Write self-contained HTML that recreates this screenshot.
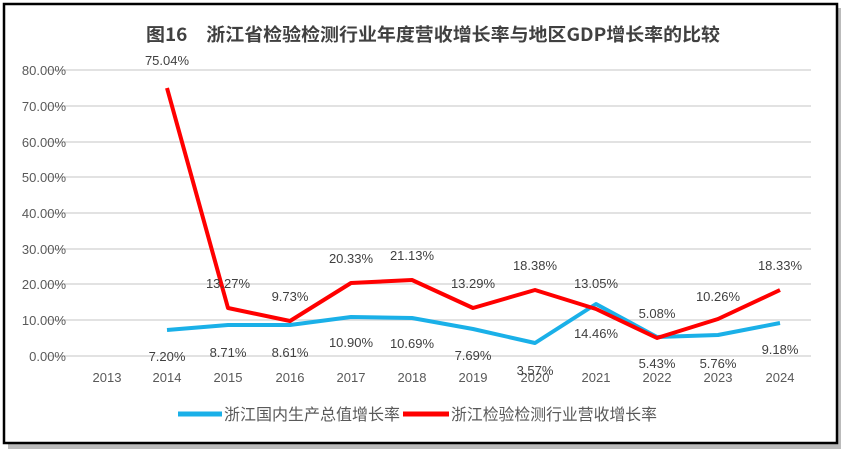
<!DOCTYPE html>
<html><head><meta charset="utf-8"><style>
html,body{margin:0;padding:0;background:#fff;}
svg{display:block;font-family:"Liberation Sans","Noto Sans CJK SC",sans-serif;}
</style></head><body>
<svg width="845" height="454" viewBox="0 0 845 454" xmlns="http://www.w3.org/2000/svg">
<rect x="0" y="0" width="845" height="454" fill="#fff"/>
<rect x="8" y="8" width="833" height="441" fill="#bbb"/>
<rect x="4" y="4" width="833" height="439" fill="#fff" stroke="#000" stroke-width="2.5"/>
<text x="146" y="41" textLength="574" lengthAdjust="spacingAndGlyphs" font-size="18" font-weight="bold" fill="#404040" font-family="'Noto Sans CJK SC',sans-serif">图16　浙江省检验检测行业年度营收增长率与地区GDP增长率的比较</text>
<g stroke="#d9d9d9" stroke-width="1.5">
<line x1="47" x2="811" y1="70" y2="70"/><line x1="47" x2="811" y1="106" y2="106"/>
<line x1="47" x2="811" y1="142" y2="142"/><line x1="47" x2="811" y1="177" y2="177"/>
<line x1="47" x2="811" y1="213" y2="213"/><line x1="47" x2="811" y1="249" y2="249"/>
<line x1="47" x2="811" y1="284" y2="284"/><line x1="47" x2="811" y1="320" y2="320"/>
<line x1="47" x2="811" y1="356" y2="356"/>
</g>
<g font-size="13" fill="#595959" text-anchor="end">
<text x="66" y="75">80.00%</text><text x="66" y="111">70.00%</text><text x="66" y="147">60.00%</text>
<text x="66" y="182">50.00%</text><text x="66" y="218">40.00%</text><text x="66" y="254">30.00%</text>
<text x="66" y="289">20.00%</text><text x="66" y="325">10.00%</text><text x="66" y="361">0.00%</text>
</g>
<g font-size="13" fill="#595959" text-anchor="middle">
<text x="107" y="382">2013</text><text x="167" y="382">2014</text><text x="228" y="382">2015</text>
<text x="290" y="382">2016</text><text x="351" y="382">2017</text><text x="412" y="382">2018</text>
<text x="473" y="382">2019</text><text x="535" y="382">2020</text><text x="596" y="382">2021</text>
<text x="657" y="382">2022</text><text x="718" y="382">2023</text><text x="780" y="382">2024</text>
</g>
<polyline fill="none" stroke="#1ab0e8" stroke-width="4" stroke-linejoin="round"
points="167,330 228,325 290,325 351,317 412,318 473,329 535,343 596,304 657,337 718,335 780,323"/>
<polyline fill="none" stroke="#ff0000" stroke-width="4" stroke-linejoin="round"
points="167,88 228,308 290,321 351,283 412,280 473,308 535,290 596,309 657,338 718,319 780,290"/>
<g font-size="13" fill="#404040" text-anchor="middle">
<text x="167" y="65">75.04%</text><text x="228" y="288">13.27%</text><text x="290" y="301">9.73%</text>
<text x="351" y="263">20.33%</text><text x="412" y="260">21.13%</text><text x="473" y="288">13.29%</text>
<text x="535" y="270">18.38%</text><text x="596" y="288">13.05%</text><text x="657" y="318">5.08%</text>
<text x="718" y="301">10.26%</text><text x="780" y="270">18.33%</text>
<text x="167" y="361">7.20%</text><text x="228" y="357">8.71%</text><text x="290" y="357">8.61%</text>
<text x="351" y="347">10.90%</text><text x="412" y="348">10.69%</text><text x="473" y="360">7.69%</text>
<text x="535" y="375">3.57%</text><text x="596" y="338">14.46%</text><text x="657" y="368">5.43%</text>
<text x="718" y="368">5.76%</text><text x="780" y="354">9.18%</text>
</g>
<line x1="178" x2="222" y1="414" y2="414" stroke="#1ab0e8" stroke-width="5"/>
<text x="224" y="420" textLength="176" lengthAdjust="spacingAndGlyphs" font-size="16" fill="#595959">浙江国内生产总值增长率</text>
<line x1="403" x2="449" y1="414" y2="414" stroke="#ff0000" stroke-width="5"/>
<text x="451" y="420" textLength="206" lengthAdjust="spacingAndGlyphs" font-size="16" fill="#595959">浙江检验检测行业营收增长率</text>
</svg>
</body></html>
